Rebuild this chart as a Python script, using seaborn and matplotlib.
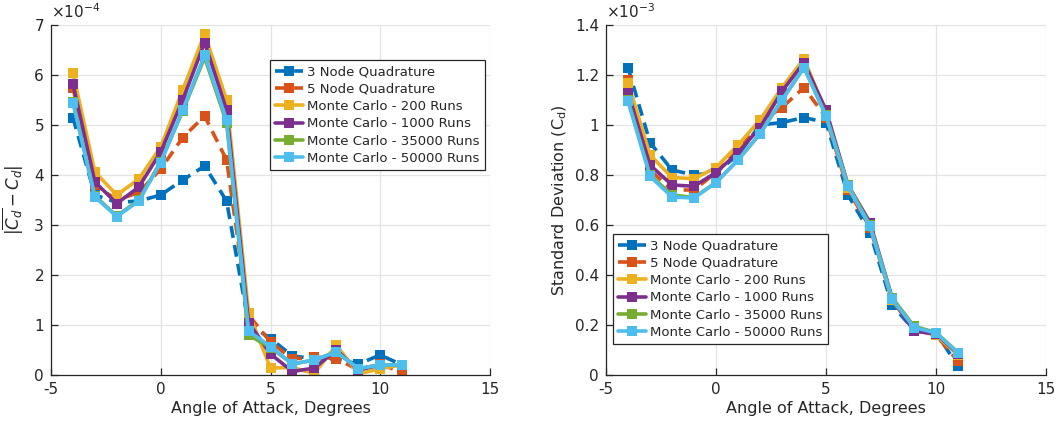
import matplotlib
matplotlib.use("Agg")
import matplotlib.pyplot as plt
import seaborn as sns
import numpy as np
import pandas as pd

# ---------------- data ----------------
alpha = [-4, -3, -2, -1, 0, 1, 2, 3, 4, 5, 6, 7, 8, 9, 10, 11]
series_names = ["3 Node Quadrature", "5 Node Quadrature", "Monte Carlo - 200 Runs",
                "Monte Carlo - 1000 Runs", "Monte Carlo - 35000 Runs", "Monte Carlo - 50000 Runs"]

# left panel |mean(Cd) - Cd|, units of 1e-4
err_n3 = [5.15, 3.60, 3.45, 3.48, 3.60, 3.90, 4.18, 3.48, 1.02, 0.73, 0.38, 0.33, 0.32, 0.22, 0.40, 0.20]
err_n5 = [5.75, 3.80, 3.50, 3.65, 4.12, 4.75, 5.18, 4.30, 1.20, 0.66, 0.32, 0.36, 0.33, 0.10, 0.22, 0.05]
err_mc200 = [6.04, 4.06, 3.60, 3.92, 4.56, 5.70, 6.82, 5.50, 1.25, 0.14, 0.15, 0.03, 0.60, 0.02, 0.13, 0.20]
err_mc1000 = [5.82, 3.86, 3.43, 3.76, 4.46, 5.50, 6.65, 5.30, 1.05, 0.42, 0.07, 0.14, 0.50, 0.10, 0.20, 0.20]
err_mc35000 = [5.47, 3.58, 3.18, 3.50, 4.27, 5.28, 6.35, 5.05, 0.80, 0.55, 0.22, 0.30, 0.46, 0.13, 0.20, 0.20]
err_mc50000 = [5.45, 3.56, 3.17, 3.48, 4.25, 5.30, 6.40, 5.10, 0.88, 0.57, 0.22, 0.30, 0.46, 0.13, 0.20, 0.20]

# right panel standard deviation of Cd, units of 1e-3
std_n3 = [1.23, 0.93, 0.82, 0.80, 0.81, 0.88, 1.00, 1.01, 1.03, 1.01, 0.72, 0.57, 0.28, 0.18, 0.17, 0.035]
std_n5 = [1.18, 0.82, 0.74, 0.74, 0.81, 0.90, 1.01, 1.07, 1.15, 1.03, 0.74, 0.59, 0.30, 0.18, 0.16, 0.055]
std_mc200 = [1.17, 0.88, 0.79, 0.785, 0.83, 0.92, 1.02, 1.15, 1.265, 1.05, 0.75, 0.60, 0.30, 0.19, 0.16, 0.08]
std_mc1000 = [1.13, 0.84, 0.76, 0.755, 0.81, 0.89, 0.99, 1.135, 1.25, 1.06, 0.76, 0.61, 0.31, 0.175, 0.165, 0.085]
std_mc35000 = [1.10, 0.80, 0.72, 0.71, 0.77, 0.86, 0.965, 1.10, 1.23, 1.04, 0.76, 0.60, 0.31, 0.195, 0.17, 0.09]
std_mc50000 = [1.095, 0.795, 0.712, 0.708, 0.77, 0.86, 0.965, 1.10, 1.23, 1.035, 0.755, 0.595, 0.305, 0.19, 0.168, 0.088]

x_ticks = [-5, 0, 5, 10, 15]
left_yticks = [0, 1, 2, 3, 4, 5, 6, 7]
right_yticks = [0, 0.2, 0.4, 0.6, 0.8, 1.0, 1.2, 1.4]
right_ytick_labels = ["0", "0.2", "0.4", "0.6", "0.8", "1", "1.2", "1.4"]

colors = ["#0072BD", "#D95319", "#EDB120", "#7E2F8E", "#77AC30", "#4DBEEE"]
dashed = [True, True, False, False, False, False]

# ---------------- plot ----------------
sns.set_style("white")
plt.rcParams["font.family"] = ["DejaVu Sans"]
txt = "#262626"

fig = plt.figure(figsize=(10.6, 4.23), dpi=100)
axL = fig.add_axes([51 / 1060, 1 - 375 / 423, 439 / 1060, 350 / 423])
axR = fig.add_axes([606 / 1060, 1 - 375 / 423, 440 / 1060, 350 / 423])


def draw(ax, ys):
    for name, y, c, d in zip(series_names, ys, colors, dashed):
        df = pd.DataFrame({"x": alpha, "y": y})
        sns.lineplot(data=df, x="x", y="y", ax=ax, color=c, lw=2.6,
                     marker="s", markersize=6.5, markeredgewidth=0,
                     linestyle=(0, (3.3, 2.0)) if d else "-", label=name)


draw(axL, [err_n3, err_n5, err_mc200, err_mc1000, err_mc35000, err_mc50000])
draw(axR, [std_n3, std_n5, std_mc200, std_mc1000, std_mc35000, std_mc50000])

for ax in (axL, axR):
    ax.set_xlim(-5, 15)
    ax.set_xticks(x_ticks)
    ax.set_xticklabels([str(t) for t in x_ticks])
    ax.grid(True, color="#e3e3e3", lw=0.9)
    ax.set_axisbelow(True)
    for s in ("top", "right"):
        ax.spines[s].set_visible(False)
    for s in ("left", "bottom"):
        ax.spines[s].set_color(txt)
        ax.spines[s].set_linewidth(0.9)
    ax.tick_params(direction="in", length=5, width=0.9, color=txt,
                   labelsize=11, labelcolor=txt, left=True, bottom=True, pad=5)
    ax.set_xlabel("Angle of Attack, Degrees", fontsize=11.5, color=txt, labelpad=3)

axL.set_ylim(0, 7)
axL.set_yticks(left_yticks)
axL.set_yticklabels([str(t) for t in left_yticks])
axL.set_ylabel(r"$|\overline{C_d} - C_d|$", fontsize=12, color=txt, labelpad=6)
axL.text(0.0, 1.012, r"$\times10^{-4}$", transform=axL.transAxes, fontsize=11,
         color=txt, ha="left", va="bottom")

axR.set_ylim(0, 1.4)
axR.set_yticks(right_yticks)
axR.set_yticklabels(right_ytick_labels)
axR.set_ylabel(r"Standard Deviation (C$_\mathregular{d}$)", fontsize=11.5, color=txt, labelpad=4)
axR.text(0.0, 1.012, r"$\times10^{-3}$", transform=axR.transAxes, fontsize=11,
         color=txt, ha="left", va="bottom")

leg_kw = dict(fontsize=9.5, frameon=True, fancybox=False, edgecolor=txt,
              borderaxespad=0, handlelength=2.1, handletextpad=0.3,
              labelspacing=0.33, borderpad=0.4, loc="upper left", framealpha=1)
lL = axL.legend(bbox_to_anchor=(0.499, 0.9), **leg_kw)
lR = axR.legend(bbox_to_anchor=(0.016, 0.403), **leg_kw)
for lg in (lL, lR):
    lg.get_frame().set_linewidth(0.9)
    for t in lg.get_texts():
        t.set_color(txt)

fig.savefig("out.png", dpi=100)
